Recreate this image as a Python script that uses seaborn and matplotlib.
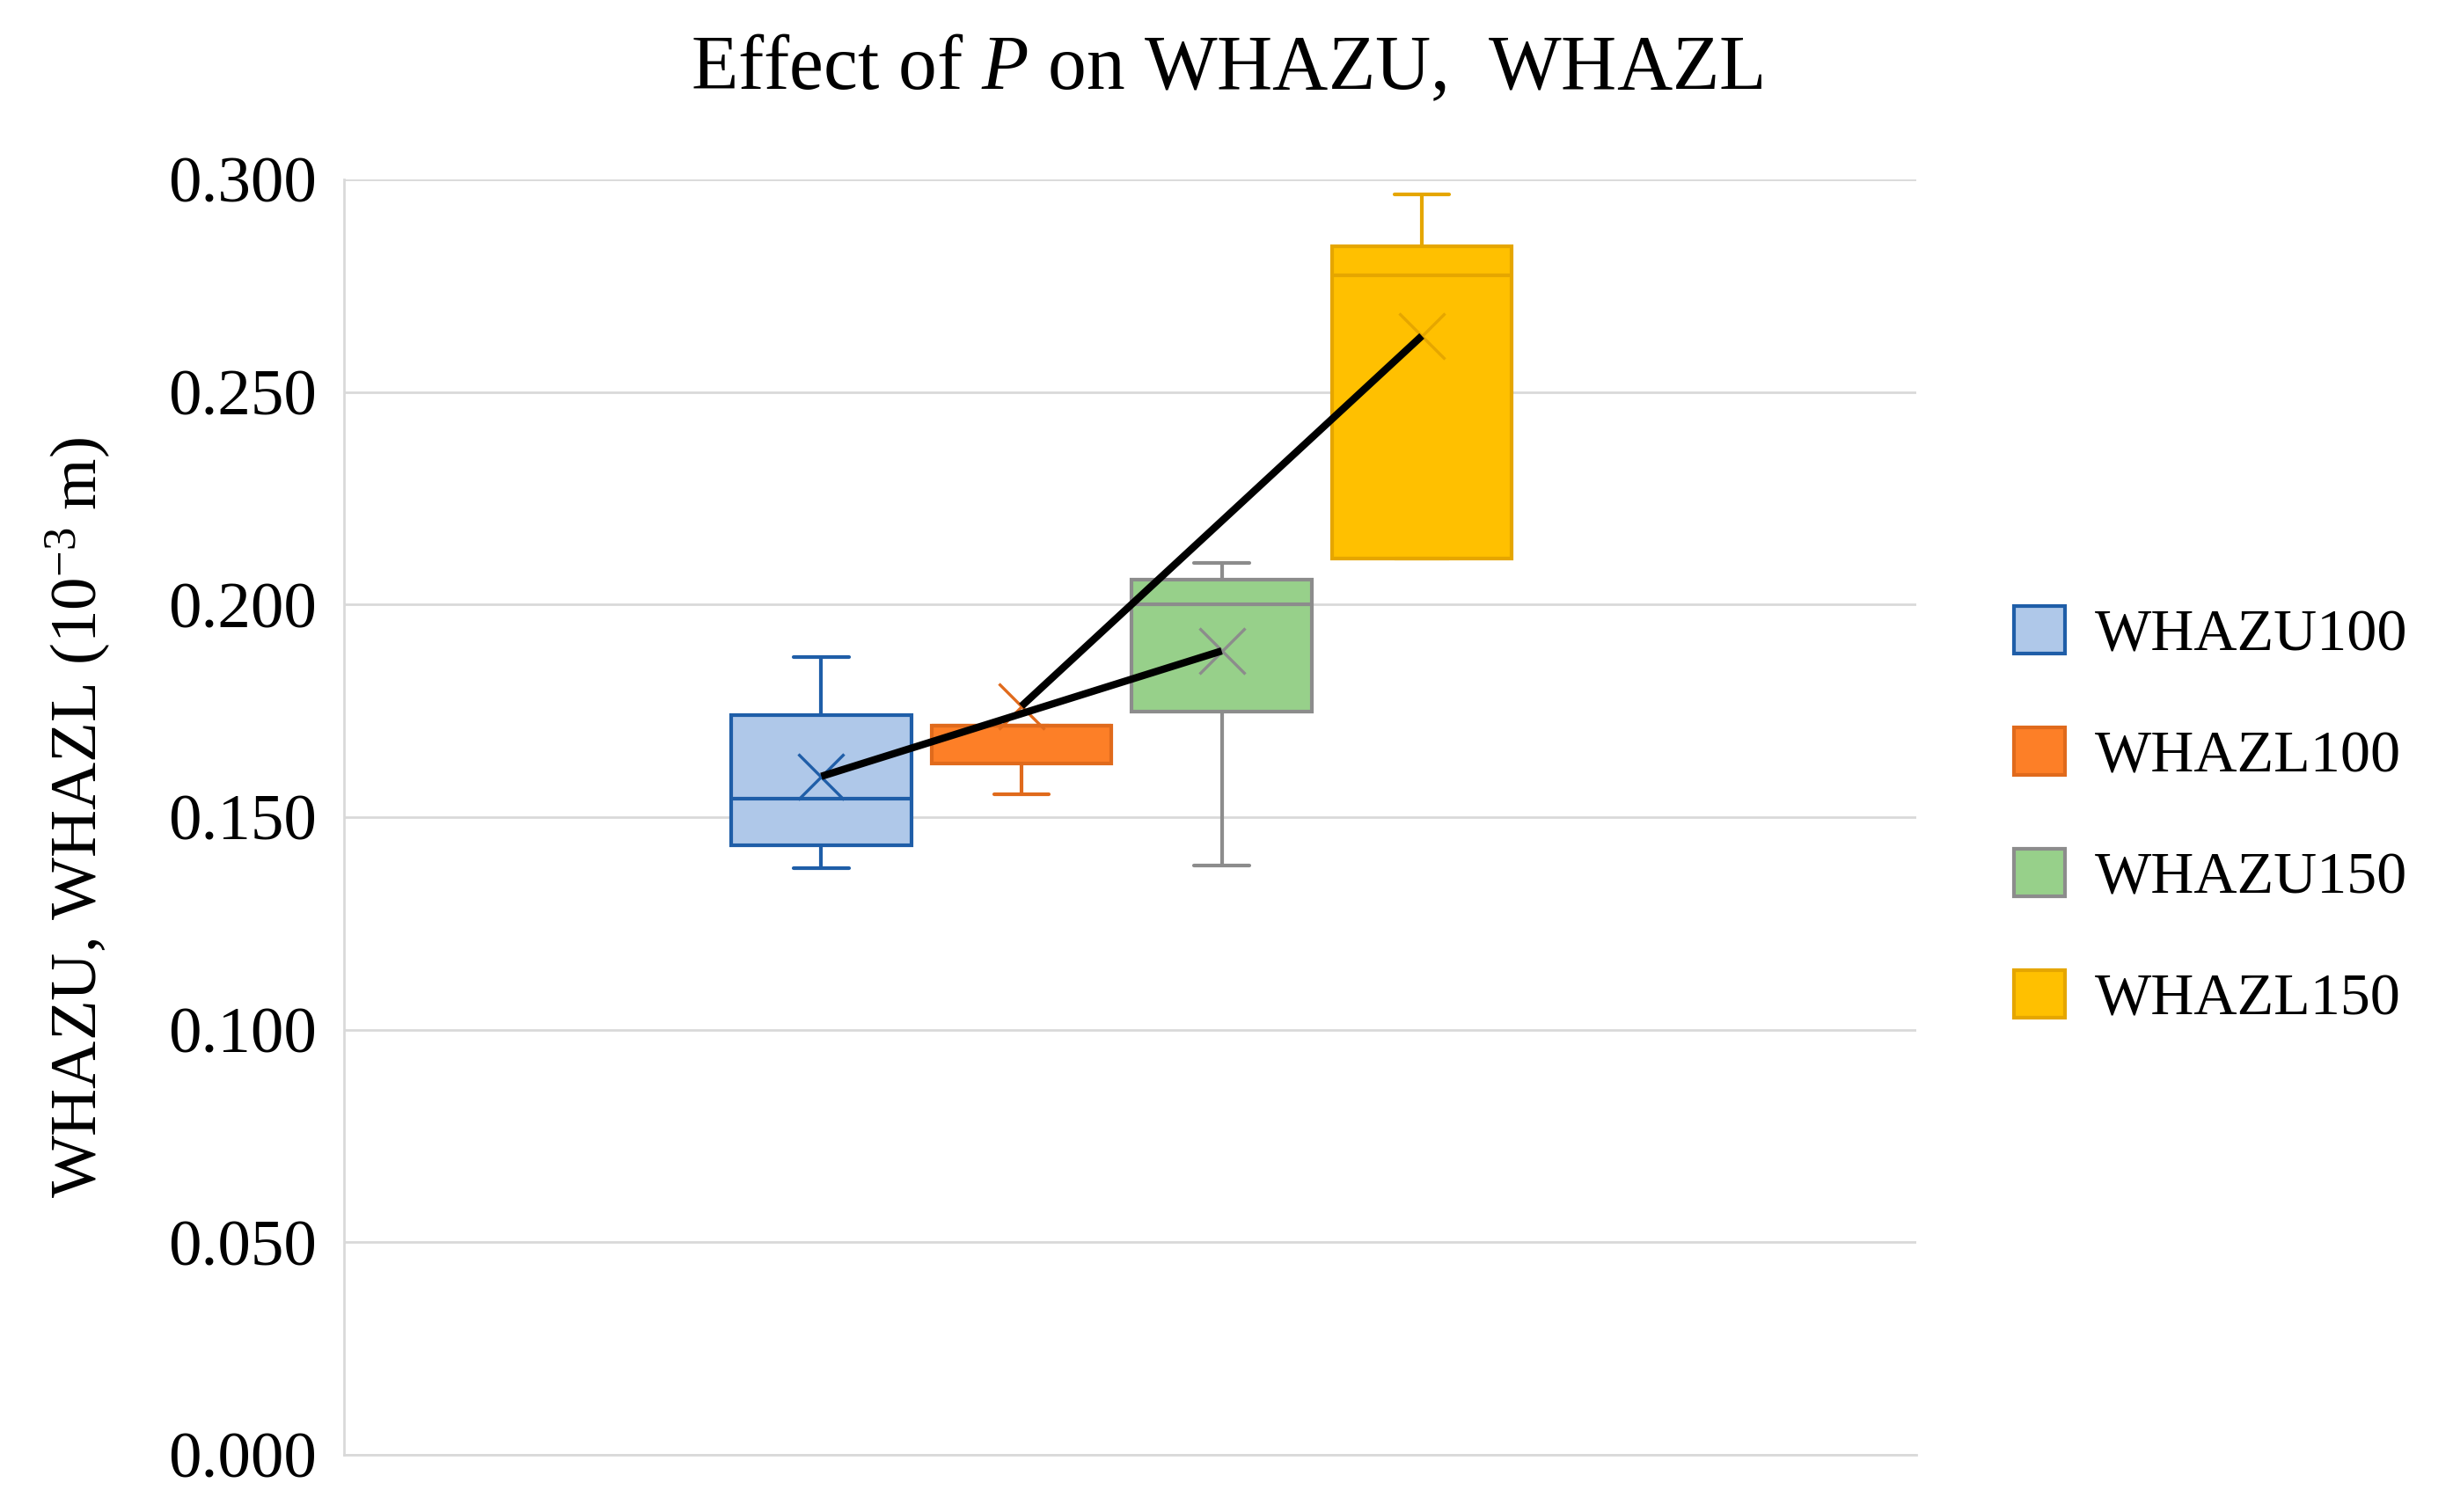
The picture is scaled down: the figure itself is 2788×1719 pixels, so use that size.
import numpy as np
import pandas as pd
import matplotlib.pyplot as plt
from matplotlib.patches import Patch
import seaborn as sns

# --- data (10^-3 m) ---
series = ['WHAZU100', 'WHAZL100', 'WHAZU150', 'WHAZL150']
# five-number summaries: min, Q1, median, Q3, max
whazu100 = [0.1381, 0.1433, 0.1544, 0.1741, 0.1877]
whazl100 = [0.1554, 0.1626, 0.1715, 0.1715, 0.1715]
whazu150 = [0.1387, 0.1749, 0.2000, 0.2058, 0.2097]
whazl150 = [0.2108, 0.2108, 0.2774, 0.2842, 0.2964]
means = [0.1596, 0.1761, 0.1891, 0.2632]

fills = ['#AFC8E9', '#FD7F27', '#97D08A', '#FFC000']
edges = ['#1F5EA8', '#E06A1C', '#8C8C8C', '#E5A600']

sns.set_theme(style="white")
plt.rcParams['font.family'] = ['Liberation Serif', 'DejaVu Serif']
plt.rcParams['mathtext.fontset'] = 'custom'
plt.rcParams['mathtext.rm'] = 'Liberation Serif'
plt.rcParams['mathtext.it'] = 'Liberation Serif:italic'
plt.rcParams['text.color'] = 'black'
plt.rcParams['axes.labelcolor'] = 'black'
plt.rcParams['ytick.color'] = 'black'

df = pd.DataFrame({
    'group': 'P',
    'series': np.repeat(series, 5),
    'value': whazu100 + whazl100 + whazu150 + whazl150,
})

fig = plt.figure(figsize=(27.88, 17.19), dpi=100)
ax = fig.add_axes([0.1402, 0.0378, 0.6410, 0.8435])

for name, fc, ec in zip(series, fills, edges):
    sns.boxplot(
        data=df[df['series'] == name], x='group', y='value',
        hue='series', hue_order=series, palette=dict(zip(series, fills)),
        dodge=True, width=0.8, gap=0.1, whis=(0, 100), saturation=1,
        linecolor=ec, linewidth=3.0, showfliers=False,
        legend=False, ax=ax, capwidths=0.055,
    )

# mean markers and the P trend lines (U and L separately)
offsets = (np.arange(len(series)) - 1.5) * 0.8 / len(series)
for xo, m, ec in zip(offsets, means, edges):
    ax.plot(xo, m, marker='x', markersize=38, markeredgewidth=2.4,
            color=ec, zorder=4)
ax.plot(offsets[[0, 2]], np.array(means)[[0, 2]], color='black', lw=6,
        zorder=5, solid_capstyle='butt')
ax.plot(offsets[[1, 3]], np.array(means)[[1, 3]], color='black', lw=6,
        zorder=5, solid_capstyle='butt')

ax.set_xlim(-0.777, 0.794)
ax.set_ylim(0, 0.3)
ax.set_yticks(np.arange(0, 0.301, 0.05))
ax.set_yticklabels([f'{v:.3f}' for v in np.arange(0, 0.301, 0.05)])
ax.set_xticks([])
ax.set_xlabel('')
ax.tick_params(axis='y', labelsize=54, pad=22, length=0)
ax.yaxis.grid(True, color='#D9D9D9', linewidth=2)
ax.set_axisbelow(True)
for s in ['top', 'right']:
    ax.spines[s].set_visible(False)
for s in ['left', 'bottom']:
    ax.spines[s].set_color('#D9D9D9')
    ax.spines[s].set_linewidth(2)

ax.set_ylabel('WHAZU, WHAZL (10$^{-3}$ m)', fontsize=54)
ax.yaxis.set_label_coords(-0.147, 0.5)
fig.suptitle('Effect of $\\mathit{P}$ on WHAZU,  WHAZL', fontsize=63, y=0.977)

handles = [Patch(facecolor=fc, edgecolor=ec, linewidth=3) for fc, ec in zip(fills, edges)]
fig.legend(handles, series, loc='center left', bbox_to_anchor=(0.799, 0.46),
           frameon=False, fontsize=49, handlelength=0.85, handleheight=0.85,
           handletextpad=0.5, labelspacing=1.08)

fig.savefig('out.png', dpi=100)
